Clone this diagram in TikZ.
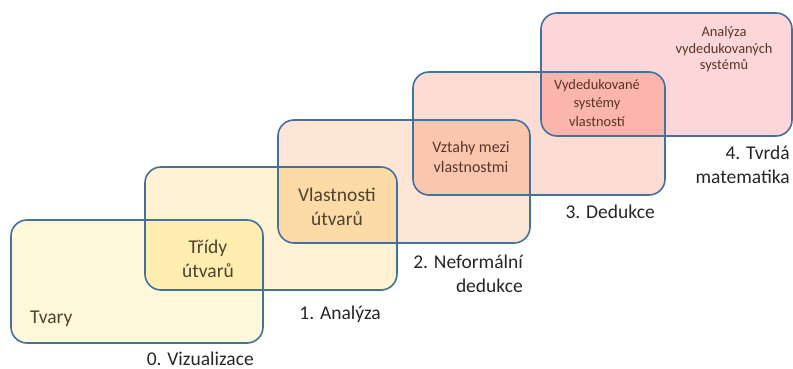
\documentclass[tikz,border=0pt]{standalone}
\usepackage{fontspec}
\setmainfont{Carlito}
\definecolor{frame}{HTML}{41719C}
\definecolor{fillA}{HTML}{FFF7D9}
\definecolor{fillB}{HTML}{FFF3D4}
\definecolor{fillAB}{HTML}{FFEEB0}
\definecolor{fillC}{HTML}{FEE6D7}
\definecolor{fillBC}{HTML}{FCDBA6}
\definecolor{fillD}{HTML}{FDDDD3}
\definecolor{fillCD}{HTML}{FBC6AE}
\definecolor{fillE}{HTML}{FDD6D9}
\definecolor{fillDE}{HTML}{FBB5AD}
\definecolor{labeltext}{HTML}{262626}
\definecolor{warmtext}{HTML}{4E4230}
\definecolor{redtext}{HTML}{5A3428}
\tikzset{
  stage/.style={rectangle, rounded corners=16pt, draw=none, inner sep=0pt,
    outer sep=0pt, minimum width=252pt, minimum height=123pt, anchor=north west},
  rim/.style={draw=frame, line width=1.6pt, rounded corners=16pt},
  levellabel/.style={font=\fontsize{19.5}{24}\selectfont, text=labeltext, inner sep=0pt},
  bigtext/.style={font=\fontsize{19.5}{24}\selectfont, text=warmtext, inner sep=0pt, align=center, anchor=base},
  midtext/.style={font=\fontsize{16}{20}\selectfont, text=redtext, inner sep=0pt, align=center, anchor=base},
  smalltext/.style={font=\fontsize{14.4}{18.5}\selectfont, text=redtext, inner sep=0pt, align=center, anchor=base},
}
\begin{document}
\begin{tikzpicture}[x=1pt,y=-1pt]
\useasboundingbox (0,0) rectangle (793,369);
% stage panels
\node[stage, fill=fillA] (s0) at (11,220) {};
\node[stage, fill=fillB] (s1) at (145,167) {};
\node[stage, fill=fillC] (s2) at (278,120) {};
\node[stage, fill=fillD] (s3) at (413,72) {};
\node[stage, fill=fillE, minimum width=251pt] (s4) at (541,13) {};
% overlaps of neighbouring stages
\foreach \a/\b/\c in {s0/s1/fillAB, s1/s2/fillBC, s2/s3/fillCD, s3/s4/fillDE}{
  \begin{scope}
    \clip[rounded corners=16pt] (\a.north west) rectangle (\a.south east);
    \fill[\c, rounded corners=16pt] (\b.north west) rectangle (\b.south east);
  \end{scope}
}
% outlines
\foreach \s in {s0,s1,s2,s3,s4}{
  \draw[rim] (\s.north west) rectangle (\s.south east);
}
% texts inside the panels (base = baseline of the last line)
\node[bigtext, anchor=base west] (tvary) at (30,323) {Tvary};
\node[bigtext] (tridy) at (208,277) {Třídy\\útvarů};
\node[bigtext] (vlast) at (337,225) {Vlastnosti\\útvarů};
\node[midtext] (vztahy) at (471,172) {Vztahy mezi\\vlastnostmi};
\node[smalltext] (vyded) at (597,126) {Vydedukované\\systémy\\vlastností};
\node[smalltext, font=\fontsize{14.4}{16.8}\selectfont] (analyza) at (724,70) {Analýza\\vydedukovaných\\systémů};
% level captions
\node[levellabel, anchor=base east] (l0) at (254,365) {0. Vizualizace};
\node[levellabel, anchor=base east] (l1) at (381,319) {1. Analýza};
\node[levellabel, anchor=base east, align=right] (l2) at (523,292) {2. Neformální\\dedukce};
\node[levellabel, anchor=base east] (l3) at (655,218) {3. Dedukce};
\node[levellabel, anchor=base east, align=right] (l4) at (790,183) {4. Tvrdá\\matematika};
\end{tikzpicture}
\end{document}
